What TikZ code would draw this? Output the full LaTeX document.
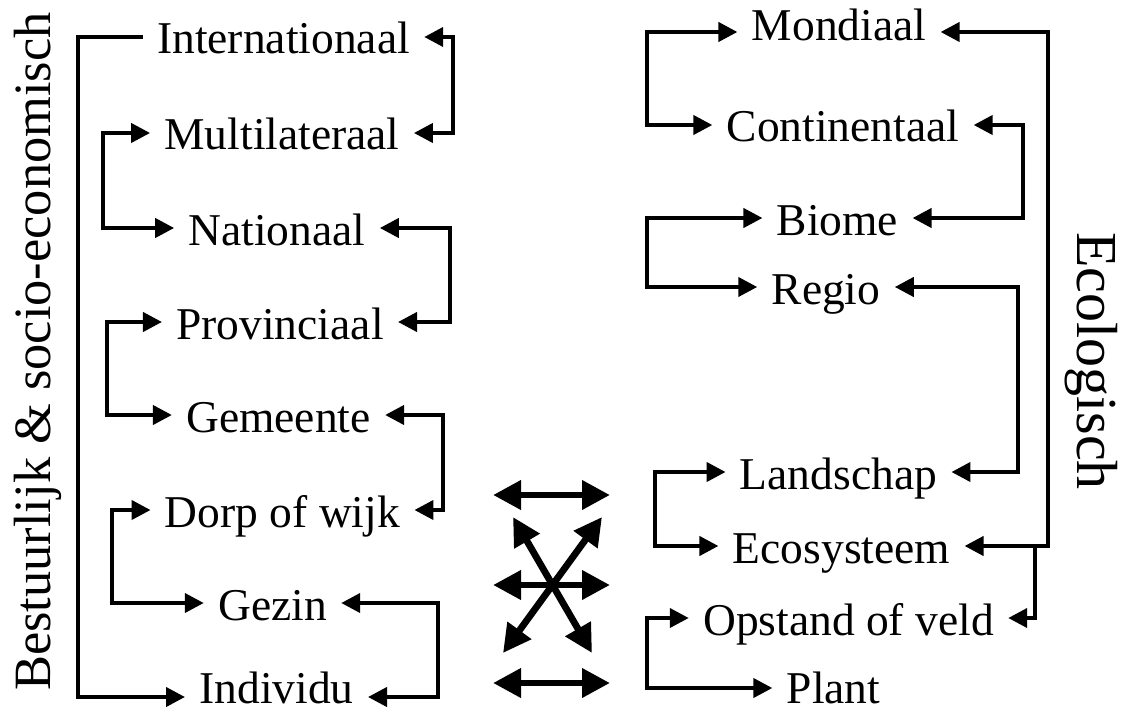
\documentclass[tikz,border=0pt]{standalone}
\usepackage{fontspec}
\setmainfont{Liberation Serif}
\usetikzlibrary{arrows.meta}
\tikzset{
  lvl/.style={font=\fontsize{22.75}{27}\selectfont, inner xsep=7pt, inner ysep=0pt, text height=17pt, text depth=0pt},
  low/.style={text height=9pt, text depth=0pt},
  side/.style={font=\fontsize{26.2}{30}\selectfont, anchor=base, inner sep=0pt},
  link/.style={draw=black, line width=2pt, -{Triangle[length=9.5pt,width=9.5pt]}},
  twoway/.style={draw=black, line width=2pt, {Triangle[length=9.5pt,width=9.5pt]}-{Triangle[length=9.5pt,width=9.5pt]}},
  cross/.style={draw=black, line width=3.4pt, {Triangle[length=14pt,width=14pt]}-{Triangle[length=14pt,width=14pt]}},
}

\begin{document}
\begin{tikzpicture}[x=0.5pt,y=-0.5pt]
  \useasboundingbox (0,0) rectangle (1122,711);
  % bestuurlijke schalen
  \node[lvl] (intl)  at (283.5,37)  {Internationaal};
  \node[lvl] (multi) at (282,133)   {Multilateraal};
  \node[lvl] (nat)   at (277,228)   {Nationaal};
  \node[lvl] (prov)  at (280,322)   {Provinciaal};
  \node[lvl] (gem)   at (278.5,415) {Gemeente};
  \node[lvl] (dorp)  at (282.5,510) {Dorp of wijk};
  \node[lvl] (gezin) at (272.5,603) {Gezin};
  \node[lvl,text height=6pt] (indiv) at (276.5,697) {Individu};
  % ecologische schalen
  \node[lvl,low] (mond) at (839,32) {Mondiaal};
  \node[lvl] (cont)  at (843,125)   {Continentaal};
  \node[lvl] (biome) at (837.5,218) {Biome};
  \node[lvl] (regio) at (826,287)   {Regio};
  \node[lvl] (land)  at (838.5,472) {Landschap};
  \node[lvl] (eco)   at (841.5,546) {Ecosysteem};
  \node[lvl] (opst)  at (848.5,618) {Opstand of veld};
  \node[lvl,text height=15.5pt] (plant) at (833.5,688) {Plant};
  \node[side,rotate=90] (bestuur) at (50,351.5) {Bestuurlijk \& socio-economisch};
  \node[side,rotate=-90,font=\fontsize{29}{33}\selectfont] (ecol) at (1077,361) {Ecologisch};

  % links
  \draw[link] (intl.west) -- (intl.west -| 78,0) |- (indiv.west);
  \draw[twoway] (multi.west) -- (multi.west -| 103,0) |- (nat.west);
  \draw[twoway] (prov.west) -- (prov.west -| 107,0) |- (gem.west);
  \draw[twoway] (dorp.west) -- (dorp.west -| 112,0) |- (gezin.west);
  \draw[twoway] (intl.east) -- (intl.east -| 453,0) |- (multi.east);
  \draw[twoway] (nat.east) -- (nat.east -| 450,0) |- (prov.east);
  \draw[twoway] (gem.east) -- (gem.east -| 443,0) |- (dorp.east);
  \draw[twoway] (gezin.east) -- (gezin.east -| 438,0) |- (indiv.east);

  % rechts
  \draw[twoway] (mond.west) -- (mond.west -| 647,0) |- (cont.west);
  \draw[twoway] (biome.west) -- (biome.west -| 647,0) |- (regio.west);
  \draw[twoway] (land.west) -- (land.west -| 655,0) |- (eco.west);
  \draw[twoway] (opst.west) -- (opst.west -| 647,0) |- (plant.west);
  \draw[twoway] (cont.east) -- (cont.east -| 1023,0) |- (biome.east);
  \draw[twoway] (regio.east) -- (regio.east -| 1018,0) |- (land.east);
  \draw[twoway] (mond.east) -- (mond.east -| 1048,0) |- (eco.east);
  \coordinate (split) at (eco.east -| 1035,0);
  \draw[link] (split) |- (opst.east);

  % tussen beide
  \coordinate (ta) at (493,495); \coordinate (tb) at (610,495);
  \coordinate (ma) at (493,585); \coordinate (mb) at (610,585);
  \coordinate (ba) at (493,683); \coordinate (bb) at (610,683);
  \coordinate (da) at (513,517); \coordinate (db) at (592,653);
  \coordinate (ea) at (602,517); \coordinate (eb) at (503,653);
  \draw[cross] (ta) -- (tb);
  \draw[cross] (ma) -- (mb);
  \draw[cross] (ba) -- (bb);
  \draw[cross] (da) -- (db);
  \draw[cross] (ea) -- (eb);
\end{tikzpicture}
\end{document}
